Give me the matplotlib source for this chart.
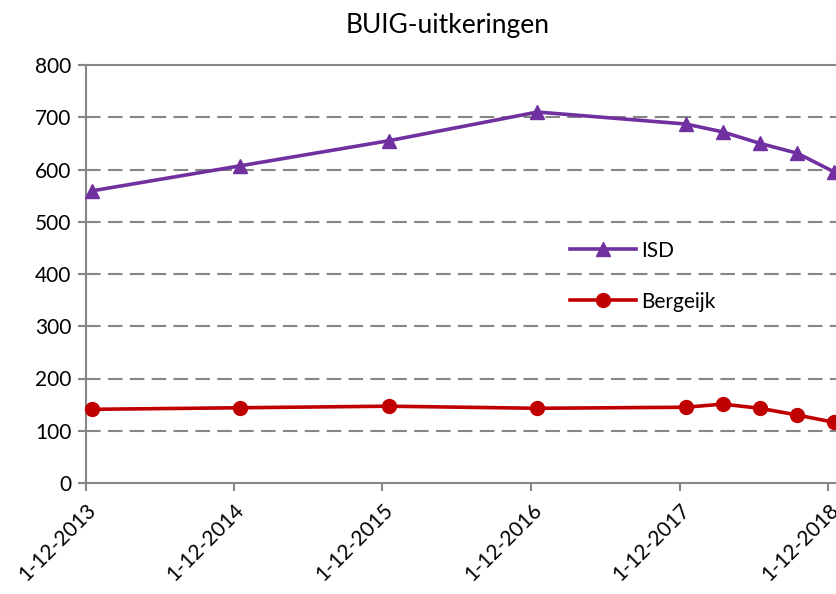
import matplotlib
matplotlib.use("Agg")
import matplotlib.pyplot as plt
import matplotlib.dates as mdates
import numpy as np
import datetime as dt

plt.rcParams['font.family'] = ['Lato', 'DejaVu Sans']

dates = ["2013-12-01", "2014-12-01", "2015-12-01", "2016-12-01", "2017-12-01",
         "2018-03-01", "2018-06-01", "2018-09-01", "2018-12-01"]
isd = [559, 607, 655, 710, 687, 672, 650, 631, 595]
bergeijk = [141, 144, 147, 143, 145, 151, 143, 130, 116]
tick_dates = ["2013-12-01", "2014-12-01", "2015-12-01", "2016-12-01", "2017-12-01", "2018-12-01"]
tick_labels = ["1-12-2013", "1-12-2014", "1-12-2015", "1-12-2016", "1-12-2017", "1-12-2018"]
yticks = [0, 100, 200, 300, 400, 500, 600, 700, 800]

def to_dt(s):
    return dt.datetime.strptime(s, "%Y-%m-%d")

offset = dt.timedelta(days=15)
x = [to_dt(d) + offset for d in dates]
xt = [to_dt(d) for d in tick_dates]

fig = plt.figure(figsize=(8.37, 5.94), dpi=100)
L, B = 85.5 / 837, (594 - 483) / 594
R, T = 841 / 837, (594 - 65) / 594
ax = fig.add_axes([L, B, R - L, T - B])

grey = '#868686'
for yv in yticks[1:-1]:
    ax.axhline(yv, color=grey, lw=1.5, linestyle=(0, (7, 3.5)), zorder=1)

ax.plot(x, isd, color='#7030A0', lw=2.6, marker='^', markersize=10, label='ISD', zorder=3, clip_on=False)
ax.plot(x, bergeijk, color='#C00000', lw=2.6, marker='o', markersize=10, label='Bergeijk', zorder=3, clip_on=False)

ax.set_ylim(0, 800)
ax.set_xlim(to_dt("2013-12-01"), to_dt("2019-01-01"))
ax.set_yticks(yticks)
ax.set_yticklabels([str(v) for v in yticks], fontsize=15)
ax.set_xticks(xt)
ax.set_xticklabels(tick_labels, fontsize=15, rotation=45, ha='right', rotation_mode='anchor')

for s in ['left', 'bottom', 'top']:
    ax.spines[s].set_color(grey)
    ax.spines[s].set_linewidth(1.5)
ax.spines['right'].set_visible(False)
ax.tick_params(axis='both', colors=grey, length=6, width=1.5, labelcolor='black')
ax.tick_params(axis='y', pad=4)
ax.tick_params(axis='x', pad=6)

fig.text(448 / 837, 1 - 25 / 594, 'BUIG-uitkeringen', ha='center', va='center', fontsize=19)

leg = ax.legend(loc='upper left', bbox_to_anchor=(0.63, 0.60), frameon=False, fontsize=15,
                handlelength=3.2, labelspacing=1.5, handletextpad=0.2, borderaxespad=0)

fig.savefig('out.png', dpi=100)
